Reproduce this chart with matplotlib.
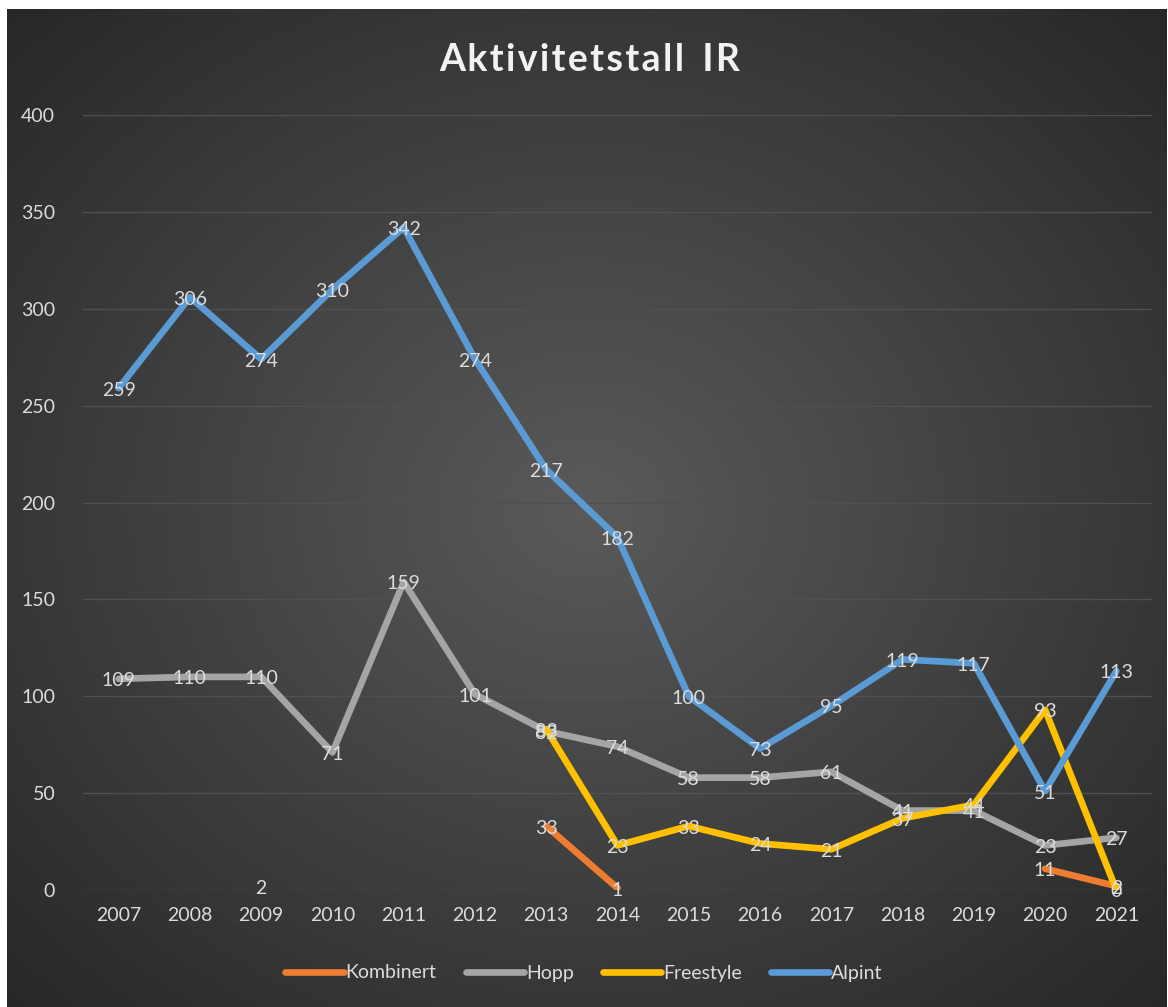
import numpy as np
import matplotlib
matplotlib.use("Agg")
import matplotlib.pyplot as plt

nan = np.nan
years = list(range(2007, 2022))
kombinert = [nan, nan, 2, nan, nan, nan, 33, 1, nan, nan, nan, nan, nan, 11, 2]
hopp = [109, 110, 110, 71, 159, 101, 82, 74, 58, 58, 61, 41, 41, 23, 27]
freestyle = [nan, nan, nan, nan, nan, nan, 83, 23, 33, 24, 21, 37, 44, 93, 0]
alpint = [259, 306, 274, 310, 342, 274, 217, 182, 100, 73, 95, 119, 117, 51, 113]

series = [("Kombinert", kombinert, "#ED7D31"),
          ("Hopp", hopp, "#A5A5A5"),
          ("Freestyle", freestyle, "#FFC000"),
          ("Alpint", alpint, "#5B9BD5")]

plt.rcParams['font.family'] = ['Lato', 'DejaVu Sans']
txt_col = "#dcdcdc"

fig = plt.figure(figsize=(11.68, 10.07), dpi=100)
fig.patch.set_facecolor("white")

# dark radial background like the Excel chart style
bg = fig.add_axes([7/1168, 0, 1 - 8/1168, 1 - 9/1007])
yy, xx = np.mgrid[0:1:400j, 0:1:400j]
r = np.sqrt(((xx - 0.5) / 0.75) ** 2 + ((yy - 0.5) / 0.75) ** 2)
r = np.clip(r / 0.95, 0, 1)
c0 = np.array([0x5a, 0x5a, 0x5a]) / 255
c1 = np.array([0x27, 0x27, 0x27]) / 255
img = c0[None, None, :] * (1 - r[..., None]) + c1[None, None, :] * r[..., None]
bg.imshow(img, aspect="auto", extent=(0, 1, 0, 1), interpolation="bicubic")
bg.set_axis_off()

ax = fig.add_axes([83/1168, 1 - 890/1007, (1152 - 83)/1168, (890 - 115)/1007])
ax.patch.set_alpha(0)
x = np.arange(len(years))

for name, vals, col in series:
    ax.plot(x, vals, color=col, lw=4.8, solid_capstyle="round",
            solid_joinstyle="round", label=name, zorder=3)

for name, vals, col in series:
    for xi, v in zip(x, vals):
        if not np.isnan(v):
            ax.text(xi, v - 1, f"{int(v)}", ha="center", va="center",
                    fontsize=14, color=txt_col, zorder=5)

ax.set_xlim(-0.5, len(years) - 0.5)
ax.set_ylim(0, 400)
ax.set_yticks(np.arange(0, 401, 50))
ax.set_xticks(x)
ax.set_xticklabels([str(y) for y in years])
ax.tick_params(colors=txt_col, labelsize=14, length=0, pad=12)
ax.tick_params(axis="y", pad=20)
ax.grid(axis="y", color="#505050", lw=1)
ax.set_axisbelow(True)
for s in ax.spines.values():
    s.set_visible(False)

# spaced-out title letters (hair spaces between characters)
title = "Aktivitetstall IR"
spaced = "  ".join("\u200a".join(w) for w in title.split(" "))
fig.text(0.505, 1 - 60/1007, spaced,
         ha="center", va="center", fontsize=27, fontweight="bold",
         color="#f2f2f2", family=["Lato", "DejaVu Sans"])

leg = fig.legend(loc="center", bbox_to_anchor=(0.5, 1 - 973/1007), ncol=4,
                 frameon=False, fontsize=14, handlelength=3.0,
                 handletextpad=0.1, columnspacing=1.5)
for t in leg.get_texts():
    t.set_color(txt_col)

fig.savefig("out.png", dpi=100)
